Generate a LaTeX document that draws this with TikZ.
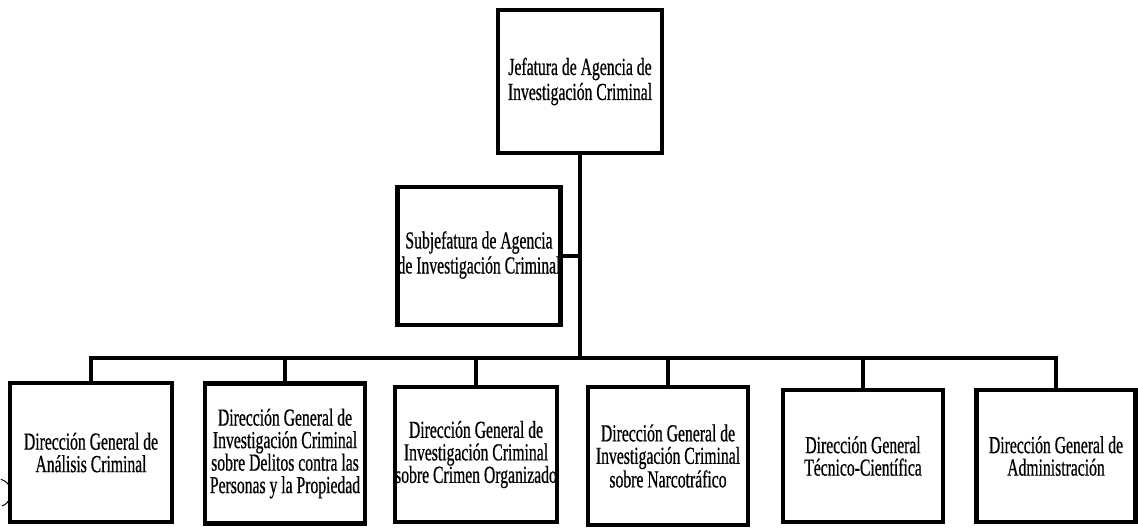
\documentclass[tikz,border=0pt]{standalone}
\usepackage{fontspec}
\setmainfont[FakeStretch=0.64,FakeBold=0.6]{Liberation Serif}
\begin{document}
\begin{tikzpicture}[x=1pt,y=-1pt,
  box/.style={draw,line width=4.5pt,minimum width=#1,inner sep=0pt,align=center,
    font=\fontsize{24.5}{22.5}\selectfont},
  box/.default=160pt,
  conn/.style={line width=4.5pt}]
\useasboundingbox (0,0) rectangle (1138,532);
\node[box=164pt,minimum height=143pt,font=\fontsize{24.5}{25}\selectfont] (top) at (580,81.5) {Jefatura de Agencia de\\Investigación Criminal};
\node[box=162pt,minimum height=138pt,font=\fontsize{24.5}{25}\selectfont] (sub) at (479,256) {\raisebox{-5pt}{\begin{tabular}{@{}c@{}}Subjefatura de Agencia\\[0pt]de Investigación Criminal\end{tabular}}};
\node[box=162pt,minimum height=139pt] (b1) at (91,452.5) {Dirección General de\\Análisis Criminal};
\node[box=160pt,minimum height=140pt] (b2) at (285,453.5) {Dirección General de\\Investigación Criminal\\sobre Delitos contra las\\Personas y la Propiedad};
\node[box=158pt,minimum height=135pt] (b3) at (476,454.5) {Dirección General de\\Investigación Criminal\\sobre Crimen Organizado};
\node[box=160pt,minimum height=138pt] (b4) at (668,456) {Dirección General de\\Investigación Criminal\\sobre Narcotráfico};
\node[box=160pt,minimum height=132pt] (b5) at (863,456) {Dirección General\\Técnico-Científica};
\node[box=159pt,minimum height=132pt] (b6) at (1056,456) {Dirección General de\\Administración};
\coordinate (bus) at (top.south |- 0,358);
\draw[conn] (top.south) -- (bus);
\draw[conn] (sub.east) -- (sub.east -| top.south);
\draw[conn,line cap=rect] (b1.north |- bus) -- (b6.north |- bus);
\foreach \b in {b1,b2,b3,b4,b5,b6} \draw[conn] (\b.north |- bus) -- (\b.north);
\draw[line width=1pt] (2,506) arc[start angle=70,end angle=-75,radius=14];
\end{tikzpicture}
\end{document}
